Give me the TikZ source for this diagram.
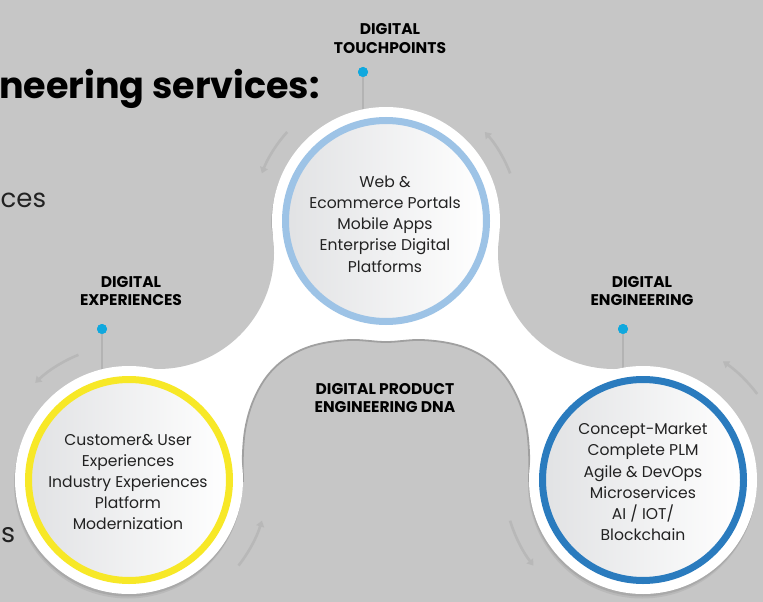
\documentclass[tikz,border=0pt]{standalone}
\usepackage{fontspec}
\setmainfont{Poppins}
\usetikzlibrary{arrows.meta}
\definecolor{bg}{HTML}{C6C6C6}
\definecolor{shadowc}{HTML}{A9A9A9}
\definecolor{shadowl}{HTML}{B9B9B9}
\definecolor{holeline}{HTML}{A0A0A0}
\definecolor{pinc}{HTML}{B3B3B3}
\definecolor{arrowc}{HTML}{B8B8B8}
\definecolor{dotc}{HTML}{10A8DE}
\definecolor{ringtop}{HTML}{9DC3E6}
\definecolor{ringleft}{HTML}{F7E827}
\definecolor{ringright}{HTML}{2A7BBE}
\definecolor{txt}{HTML}{222222}
\definecolor{gradl}{HTML}{E1E2E4}
\tikzset{
  whitecirc/.style={circle, fill=white, inner sep=0pt, minimum size=228pt},
  shadowcirc/.style={circle, fill=#1, inner sep=0pt, minimum size=228pt},
  ringnode/.style={circle, draw=#1, line width=7pt, inner sep=0pt, minimum size=201pt,
     left color=gradl, right color=white},
  bodytext/.style={align=center, text=txt, inner sep=0pt,
     font=\fontsize{15.6}{21.2}\selectfont},
  labeltext/.style={align=center, text=black, inner sep=0pt,
     font=\fontsize{15.5}{18.3}\selectfont\bfseries},
  pindot/.style={circle, fill=dotc, inner sep=0pt, minimum size=10pt},
  pinline/.style={draw=pinc, line width=2pt},
  rotarrow/.style={draw=arrowc, line width=2.6pt, -{Triangle[width=8pt,length=6pt]}},
}
\begin{document}
\begin{tikzpicture}[x=1pt,y=-1pt]
\useasboundingbox (0,0) rectangle (763,602);
\fill[bg] (0,0) rectangle (763,602);

% title fragments
\node[anchor=base west, inner sep=0pt, text=black, font=\fontsize{36.5}{36.5}\selectfont\bfseries] (title) at (-1,98) {neering services:};
\node[anchor=base west, inner sep=0pt, text=txt, font=\fontsize{26}{26}\selectfont] (ces) at (0.5,207) {ces};
\node[anchor=base west, inner sep=0pt, text=txt, font=\fontsize{27}{27}\selectfont] (s) at (1,542) {s};

% shadows
\node[shadowcirc=shadowl] (tops2) at (385,225.5) {};
\node[shadowcirc=shadowl] (lefts2) at (128,484.5) {};
\node[shadowcirc=shadowl] (rights2) at (642,484.5) {};
\node[shadowcirc=shadowc] (tops) at (385.5,223.5) {};
\node[shadowcirc=shadowc] (lefts) at (128.5,482.5) {};
\node[shadowcirc=shadowc] (rights) at (642.5,482.5) {};

% white connecting region
\fill[white] (386,221) -- (158,253) -- (129,480) -- (643,480) -- (614,253) -- cycle;
\fill[bg] (158,253) circle[radius=116pt];
\fill[bg] (614,253) circle[radius=116pt];

% central hole
\fill[bg] plot[smooth, tension=0.6] coordinates {(243,482) (243,452) (246,425) (254,399) (268,375) (288,357) (315,345) (350,340) (386,342) (422,340) (457,345) (484,357) (504,375) (518,399) (526,425) (529,452) (529,482)} -- cycle;
\draw[holeline, line width=1.8pt] plot[smooth, tension=0.6] coordinates {(243,482) (243,452) (246,425) (254,399) (268,375) (288,357) (315,345) (350,340) (386,342) (422,340) (457,345) (484,357) (504,375) (518,399) (526,425) (529,452) (529,482)};

% pin lines
\node[pindot] (topdot) at (363,72) {};
\node[pindot] (leftdot) at (102,329) {};
\node[pindot] (rightdot) at (623,329) {};
\coordinate (toppin) at (363,130);
\coordinate (leftpin) at (102,390);
\coordinate (rightpin) at (623,390);
\draw[pinline] (topdot.center) -- (toppin);
\draw[pinline] (leftdot.center) -- (leftpin);
\draw[pinline] (rightdot.center) -- (rightpin);

% white circles
\node[whitecirc] (topw) at (386,221) {};
\node[whitecirc] (leftw) at (129,480) {};
\node[whitecirc] (rightw) at (643,480) {};

% rings
\node[ringnode=ringtop] (topring) at (386,221) {};
\node[ringnode=ringleft] (leftring) at (129,480) {};
\node[ringnode=ringright] (rightring) at (643,480) {};

% dots on top of lines
\node[pindot] at (topdot) {};
\node[pindot] at (leftdot) {};
\node[pindot] at (rightdot) {};

% rotation arrows
\draw[rotarrow] ([shift={(138:133pt)}]386,221) arc[start angle=138, end angle=159, radius=133pt];
\draw[rotarrow] ([shift={(21:133pt)}]386,221) arc[start angle=21, end angle=42, radius=133pt];
\draw[rotarrow] ([shift={(112:135pt)}]129,480) arc[start angle=112, end angle=134, radius=135pt];
\draw[rotarrow] ([shift={(-38:139pt)}]129,480) arc[start angle=-38, end angle=-17, radius=139pt];
\draw[rotarrow] ([shift={(37:143pt)}]643,480) arc[start angle=37, end angle=56, radius=143pt];
\draw[rotarrow] ([shift={(197:139pt)}]643,480) arc[start angle=197, end angle=218, radius=139pt];

% labels
\node[labeltext] (toplabel) at (390,38.5) {DIGITAL\\TOUCHPOINTS};
\node[labeltext] (leftlabel) at (131,291) {DIGITAL\\EXPERIENCES};
\node[labeltext] (rightlabel) at (642,291) {DIGITAL\\ENGINEERING};
\node[labeltext] (dna) at (385,398) {DIGITAL PRODUCT\\ENGINEERING DNA};

% body texts
\node[bodytext] (toptext) at (385,224) {Web \&\\Ecommerce Portals\\Mobile Apps\\Enterprise Digital\\Platforms};
\node[bodytext] (lefttext) at (128,482) {Customer\& User\\Experiences\\Industry Experiences\\Platform\\Modernization};
\node[bodytext] (righttext) at (643,482) {Concept-Market\\Complete PLM\\Agile \& DevOps\\Microservices\\AI / IOT/\\Blockchain};
\end{tikzpicture}
\end{document}
